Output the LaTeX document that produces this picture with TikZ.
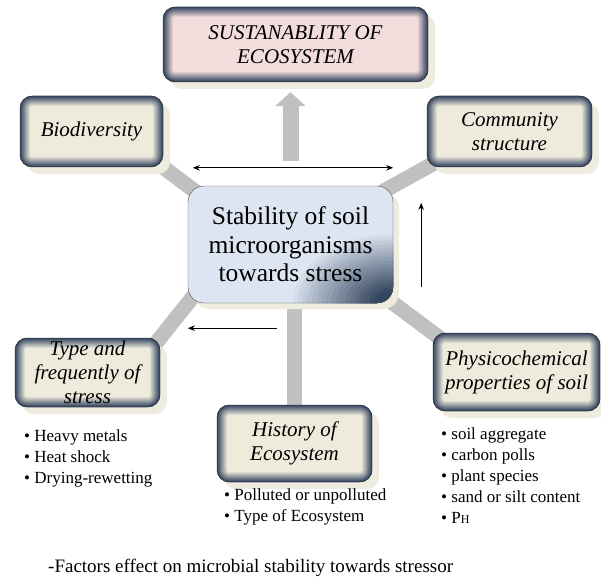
\documentclass[tikz,border=0pt]{standalone}
\usepackage{fontspec}
\setmainfont{Liberation Serif}
\usepackage{xcolor}
\definecolor{cedge}{HTML}{34455F}
\definecolor{cbeige}{HTML}{EEEBDD}
\definecolor{cpink}{HTML}{F2DCDC}
\definecolor{cpale}{HTML}{DCE5F1}
\definecolor{cshadow}{HTML}{EEEBDF}
\definecolor{cbar}{HTML}{C0C0C0}
\usepackage{tikz}
\usetikzlibrary{positioning,arrows.meta,shadows,backgrounds,calc}

\begin{document}
\begin{tikzpicture}[x=1pt, y=-1pt, >={Stealth[length=7pt,width=5.5pt]},
  glow/.style={rounded corners=12pt, draw=black!85, fill=cedge, align=center, inner sep=2pt,
    font=\itshape\fontsize{21}{24}\selectfont,
    drop shadow={shadow xshift=7pt, shadow yshift=-7pt, fill=cshadow, opacity=1},
    path picture={
      \foreach \i in {0,...,10}{
        \pgfmathtruncatemacro\p{10*\i}
        \pgfmathsetmacro\r{max(12-\i,2)}
        \fill[#1!\p!cedge, rounded corners=\r pt]
          ($(path picture bounding box.south west)+(\i pt,\i pt)$) rectangle
          ($(path picture bounding box.north east)-(\i pt,\i pt)$);
      }}},
  glow/.default=cbeige,
  core/.style={rounded corners=16pt, draw=black!70, fill=cpale, align=center, inner sep=2pt,
    font=\fontsize{25.5}{28.5}\selectfont,
    drop shadow={shadow xshift=6pt, shadow yshift=-6pt, fill=cshadow, opacity=1},
    path picture={
      \foreach \i in {0,...,19}{
        \pgfmathtruncatemacro\p{min(100,\i*5.6)}
        \fill[cedge!\p!cpale] (path picture bounding box.south east)
          ellipse [x radius={(105-4.8*\i)*1pt}, y radius={(72-3.3*\i)*1pt}];
      }}},
  bar/.style={line width=15pt, draw=cbar},
  bigarrow/.style={-{Triangle[width=30pt,length=14pt]}, line width=16pt, draw=cbar},
  thinarrow/.style={line width=1.2pt, draw=black},
  items/.style={align=left, inner sep=0pt, anchor=north west, font=\fontsize{17}{21}\selectfont}]
  \useasboundingbox (0,0) rectangle (601,577);
  % factor boxes
  \node[glow=cpink, minimum width=265pt, minimum height=75pt] (top) at (295.5,44.5) {SUSTANABLITY OF\\ECOSYSTEM};
  \node[glow, minimum width=143pt, minimum height=71pt] (bio) at (91.5,131.5) {Biodiversity};
  \node[glow, minimum width=165pt, minimum height=71pt] (comm) at (509.5,131.5) {Community\\structure};
  \node[core, minimum width=205pt, minimum height=117pt] (stab) at (290.5,244.5) {Stability of soil\\microorganisms\\towards stress};
  \node[glow, minimum width=145pt, minimum height=69pt] (type) at (87.5,372.5) {Type and\\frequently of\\stress};
  \node[glow, minimum width=155pt, minimum height=77pt] (hist) at (294.5,443.5) {History of\\Ecosystem};
  \node[glow, minimum width=167pt, minimum height=78pt] (phys) at (516.5,372) {Physicochemical\\properties of soil};
  % spokes
  \begin{scope}[on background layer]
    \draw[bar, shorten <=-12pt, shorten >=-12pt] (stab.north west) -- (bio.south east);
    \draw[bar, shorten <=-12pt, shorten >=-12pt] (stab.north east) -- (comm.south west);
    \draw[bar, shorten <=-12pt, shorten >=-12pt] (stab.south west) -- (type.north east);
    \draw[bar, shorten <=-12pt, shorten >=-12pt] (stab.south east) -- (phys.north west);
    \draw[bar, shorten <=-10pt, shorten >=-10pt] (stab.south -| hist.north) -- (hist.north);
  \end{scope}
  \draw[bigarrow, shorten <=25pt, shorten >=10pt] (stab.north) -- (stab.north |- top.south);
  % black arrows
  \draw[thinarrow, <->] ([xshift=5pt,yshift=18pt]stab.north west) -- ([yshift=18pt]stab.north east);
  \draw[thinarrow, ->] ([xshift=28pt,yshift=16pt]stab.south east) -- ([xshift=28pt,yshift=-17pt]stab.north east);
  \draw[thinarrow, ->] ([xshift=-13.5pt,yshift=-25pt]stab.south) -- ([yshift=-25pt]stab.south west);
  % lists
  \node[items] (typelist) at (24,429) {\textbullet\ Heavy metals\\\textbullet\ Heat shock\\\textbullet\ Drying-rewetting};
  \node[items] (histlist) at (224,488) {\textbullet\ Polluted or unpolluted\\\textbullet\ Type of Ecosystem};
  \node[items] (physlist) at (441,427) {\textbullet\ soil aggregate\\\textbullet\ carbon polls\\\textbullet\ plant species\\\textbullet\ sand or silt content\\\textbullet\ P{\fontsize{12}{14}\selectfont H}};
  \node[anchor=west, inner sep=0pt, font=\fontsize{19}{22}\selectfont] (caption) at (48,568) {-Factors effect on microbial stability towards stressor};
\end{tikzpicture}
\end{document}
